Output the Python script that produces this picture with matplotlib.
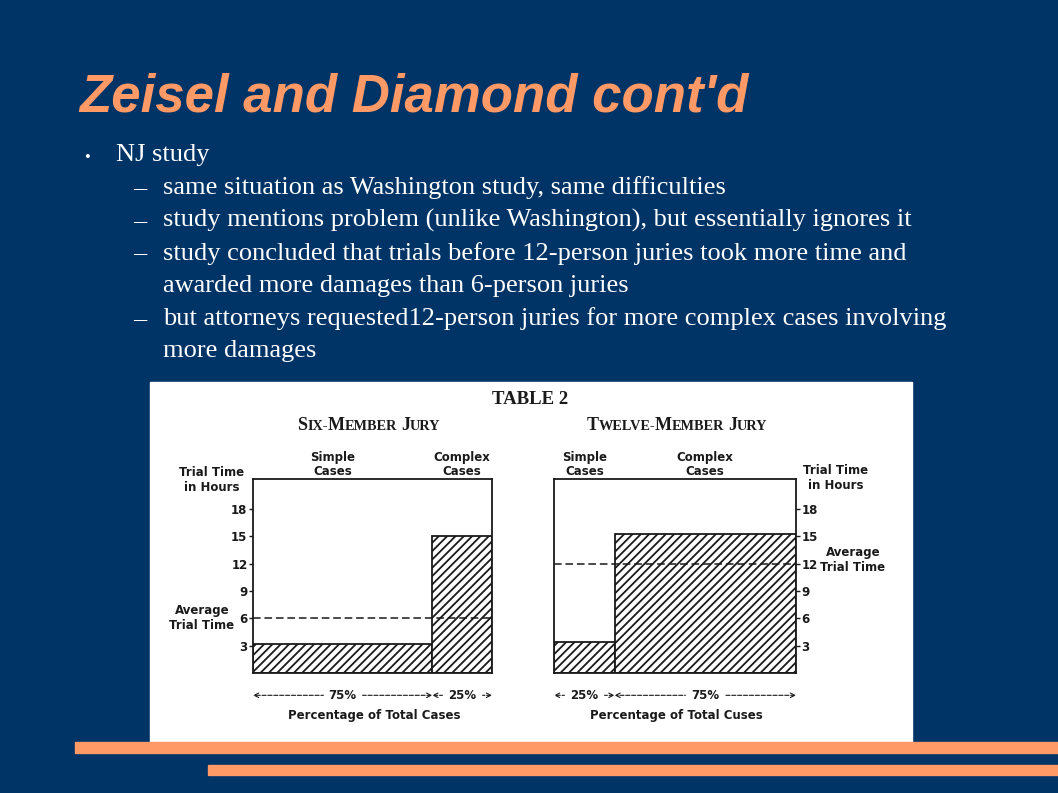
import matplotlib
matplotlib.use("Agg")
import matplotlib.pyplot as plt
from matplotlib.patches import Rectangle
from matplotlib.offsetbox import TextArea, HPacker, AnnotationBbox

# ----------------------------------------------------------
# data
# ----------------------------------------------------------
title = "Zeisel and Diamond cont'd"
bullet_main = "NJ study"
bullet_subs = [
    ["same situation as Washington study, same difficulties"],
    ["study mentions problem (unlike Washington), but essentially ignores it"],
    ["study concluded that trials before 12-person juries took more time and",
     "awarded more damages than 6-person juries"],
    ["but attorneys requested12-person juries for more complex cases involving",
     "more damages"],
]

case_labels = ["Simple\nCases", "Complex\nCases"]
hour_ticks = [3, 6, 9, 12, 15, 18]

six_share = [75, 25]          # % of total cases
six_hours = [3.2, 15.0]       # trial time in hours
six_avg = 6

twelve_share = [25, 75]
twelve_hours = [3.4, 15.3]
twelve_avg = 12

# ----------------------------------------------------------
# figure
# ----------------------------------------------------------
W, H = 1058, 793
NAVY = "#003366"
ORANGE = "#FF9966"
INK = "#1a1a1a"
plt.rcParams['hatch.linewidth'] = 1.3

fig = plt.figure(figsize=(W / 100, H / 100), dpi=100, facecolor=NAVY)


def fx(x):
    return x / W


def fy(y):
    return 1 - y / H


def add_rect(x0, y0, x1, y1, color):
    fig.patches.append(Rectangle((fx(x0), fy(y1)), fx(x1) - fx(x0), fy(y0) - fy(y1),
                                 transform=fig.transFigure, color=color, zorder=-5))


# white panel + orange rules
add_rect(150, 382, 912, 742, "white")
add_rect(75, 742, 1058, 753, ORANGE)
add_rect(208, 765, 1058, 775, ORANGE)

# title
fig.text(fx(79), fy(97), title, color=ORANGE, fontsize=38, fontweight='bold',
         fontstyle='italic', family='Liberation Sans', va='center', ha='left')

# bullets
serif = dict(family='Liberation Serif', color='white', fontsize=19, va='center')
fig.text(fx(84), fy(158), "\u2022", fontsize=12, family='Liberation Serif',
         color='white', va='center')
fig.text(fx(116), fy(155), bullet_main, **serif)
y = 188
for sub in bullet_subs:
    fig.text(fx(133), fy(y), "\u2013", **serif)
    for line in sub:
        fig.text(fx(163), fy(y), line, **serif)
        y += 32.7

# ----------------------------------------------------------
# Table 2 charts
# ----------------------------------------------------------
lab = dict(family='DejaVu Sans', fontsize=8.5, color=INK, fontweight='bold')

fig.text(fx(530), fy(399), "TABLE 2", family='Liberation Serif', fontsize=13.5,
         fontweight='bold', color=INK, ha='center', va='center')


def small_caps(word_parts, x, y):
    boxes = []
    for s, big in word_parts:
        boxes.append(TextArea(s, textprops=dict(family='Liberation Serif', fontweight='bold',
                                                color=INK, fontsize=13 if big else 10.3)))
    pack = HPacker(children=boxes, align="baseline", pad=0, sep=0)
    ab = AnnotationBbox(pack, (fx(x), fy(y)), xycoords='figure fraction', frameon=False,
                        box_alignment=(0.5, 0.5), pad=0)
    fig.add_artist(ab)


small_caps([("S", 1), ("IX-", 0), ("M", 1), ("EMBER", 0), (" ", 0), ("J", 1), ("URY", 0)], 369, 425)
small_caps([("T", 1), ("WELVE-", 0), ("M", 1), ("EMBER", 0), (" ", 0), ("J", 1), ("URY", 0)], 677, 425)


def draw_panel(left_px, right_px, shares, hours, avg, side):
    ax = fig.add_axes([fx(left_px), fy(673), fx(right_px) - fx(left_px), fy(479) - fy(673)])
    ax.set_facecolor('white')
    starts = [0, shares[0]]
    ax.bar(starts, hours, width=shares, align='edge', color='white', edgecolor=INK,
           hatch='////', linewidth=1.3)
    ax.axhline(avg, color=INK, lw=1.1, ls=(0, (5, 2.5)))
    ax.set_xlim(0, 100)
    ax.set_ylim(0, 21.3)
    ax.set_xticks([])
    ax.set_yticks(hour_ticks)
    ax.set_yticklabels([str(t) for t in hour_ticks])
    if side == 'right':
        ax.yaxis.tick_right()
    ax.tick_params(axis='y', length=3, width=1, pad=1, labelsize=8.5, colors=INK)
    for t in ax.get_yticklabels():
        t.set_fontweight('bold')
    for s in ax.spines.values():
        s.set_linewidth(1.3)
        s.set_color(INK)

    # share arrows
    for st, w in zip(starts, shares):
        ax.annotate("", xy=(st, -0.115), xytext=(st + w, -0.115),
                    xycoords=('data', 'axes fraction'), annotation_clip=False,
                    arrowprops=dict(arrowstyle='<->', lw=0.8, ls='--', color=INK,
                                    mutation_scale=8, shrinkA=0, shrinkB=0))
        ax.text(st + w / 2, -0.115, f"{w}%", transform=ax.get_xaxis_transform(),
                ha='center', va='center', backgroundcolor='white', **lab)
    # case labels above
    for st, w, c in zip(starts, shares, case_labels):
        ax.text(st + w / 2 + (-4 if side == 'left' and st == 0 else 0), 1.005, c,
                transform=ax.get_xaxis_transform(), ha='center', va='bottom',
                linespacing=1.15, **lab)
    return ax


ax6 = draw_panel(253, 492, six_share, six_hours, six_avg, 'left')
ax12 = draw_panel(554, 796, twelve_share, twelve_hours, twelve_avg, 'right')

fig.text(fx(374), fy(715), "Percentage of Total Cases", ha='center', va='center', **lab)
fig.text(fx(676), fy(715), "Percentage of Total Cuses", ha='center', va='center', **lab)

fig.text(fx(212), fy(480), "Trial Time\nin Hours", ha='center', va='center',
         linespacing=1.25, **lab)
fig.text(fx(202), fy(618), "Average\nTrial Time", ha='center', va='center',
         linespacing=1.2, **lab)
fig.text(fx(836), fy(478), "Trial Time\nin Hours", ha='center', va='center',
         linespacing=1.25, **lab)
fig.text(fx(853), fy(560), "Average\nTrial Time", ha='center', va='center',
         linespacing=1.2, **lab)

fig.savefig("out.png", dpi=100, facecolor=NAVY)
